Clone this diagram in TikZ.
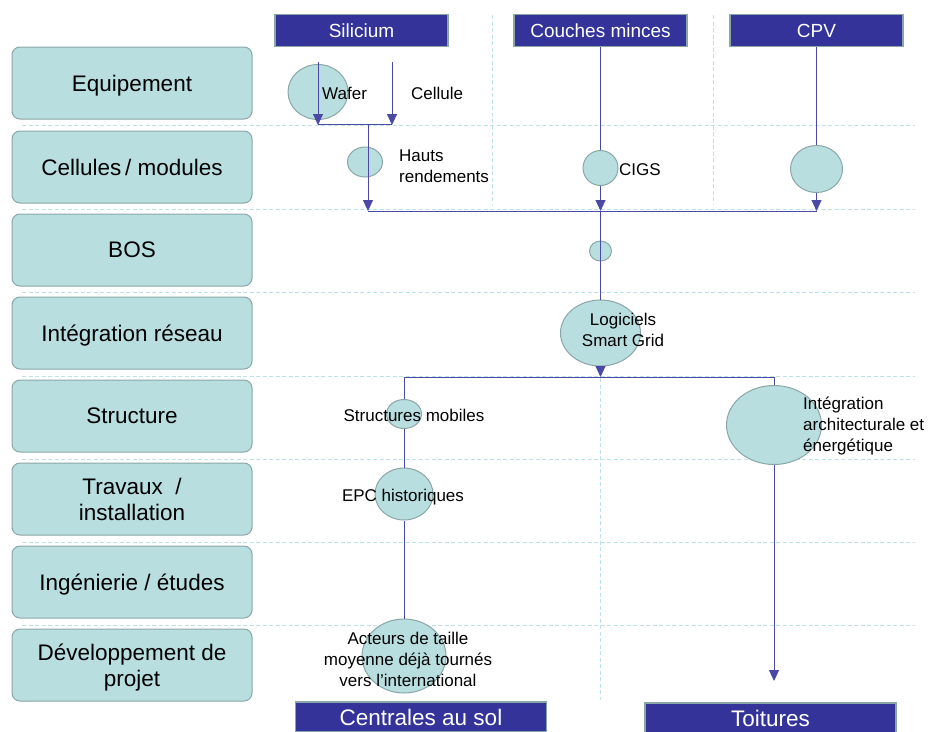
\documentclass[tikz,border=0pt]{standalone}
\usepackage{fontspec}
\setmainfont{Liberation Sans}
\usetikzlibrary{arrows.meta, positioning, shapes}

\definecolor{boxteal}{HTML}{B8DEE0}
\definecolor{boxedge}{HTML}{8AA6A6}
\definecolor{headblue}{HTML}{333399}
\definecolor{flowblue}{HTML}{4A4AA6}
\definecolor{gridteal}{HTML}{BDE2E4}

\tikzset{
  rowbox/.style={draw=boxedge, fill=boxteal, rounded corners=8pt, line width=1pt,
    minimum width=240pt, minimum height=72pt, align=center, text depth=0pt,
    font=\fontsize{22.5}{26}\selectfont},
  headbox/.style={draw=boxedge, fill=headblue, text=white, line width=1.2pt,
    minimum width=173pt, minimum height=32pt, inner sep=0pt,
    font=\fontsize{19}{22}\selectfont},
  footbox/.style={headbox, minimum width=251pt, minimum height=30pt,
    font=\fontsize{22.5}{26}\selectfont},
  bubble/.style={ellipse, draw=boxedge, fill=boxteal, line width=1pt, inner sep=0pt},
  lbl/.style={inner sep=0pt, align=left, font=\fontsize{17}{21}\selectfont},
  flow/.style={draw=flowblue, line width=0.9pt},
  flowarr/.style={flow, -{Triangle[width=10pt,length=11pt]}},
  gridline/.style={draw=gridteal, line width=0.9pt, dash pattern=on 4pt off 2.5pt}
}

\begin{document}
\begin{tikzpicture}[x=1pt, y=-1pt]
\useasboundingbox (0,0) rectangle (928,731);

% grid
\foreach \gy in {125,209,292,376,459,542,625}
  \draw[gridline] (22,\gy) -- (915,\gy);
\draw[gridline] (492,15) -- (492,205);
\draw[gridline] (713,15) -- (713,205);
\draw[gridline] (600,378) -- (600,700);

% value chain rows
\node[rowbox] (equip) at (132,83) {Equipement};
\node[rowbox] (cellmod) at (132,167) {Cellules\,/ modules};
\node[rowbox] (bos) at (132,250) {BOS};
\node[rowbox] (reseau) at (132,333) {Intégration réseau};
\node[rowbox] (struct) at (132,416) {Structure};
\node[rowbox] (travaux) at (132,499) {Travaux~~/\\installation};
\node[rowbox] (inge) at (132,582) {Ingénierie / études};
\node[rowbox] (devproj) at (132,665) {Développement de\\projet};

% technologies and markets
\node[headbox] (hsil) at (361.5,30.5) {Silicium};
\node[headbox] (hcm) at (600.5,30.5) {Couches minces};
\node[headbox] (hcpv) at (816.5,30.5) {CPV};
\node[footbox] (fsol) at (421,717) {Centrales au sol};
\node[footbox] (ftoit) at (770.5,718) {Toitures};

% bubbles crossed by the flow
\node[bubble, minimum width=60pt, minimum height=55pt] (wafer) at (318,92) {};
\node[bubble, minimum width=35pt, minimum height=30pt] (hauts) at (365,162) {};
\node[bubble, minimum width=22pt, minimum height=20pt] (bosb) at (600.5,251) {};

% junctions
\coordinate (wtop) at (318,62);
\coordinate (wbot) at (318,125);
\coordinate (ctop) at (392,62);
\coordinate (cbot) at (392,125);
\coordinate (jsil) at (368,124);
\coordinate (jleft) at (368,211);
\coordinate (jmid) at (600.5,211);
\coordinate (jright) at (816.5,211);
\coordinate (jgrid) at (600.5,377);
\coordinate (jsol) at (404,377);
\coordinate (jtoit) at (774,377);
\coordinate (toitend) at (774,681);

\draw[flowarr] (wtop) -- (wbot);
\draw[flowarr] (ctop) -- (cbot);
\draw[flow] (wbot |- jsil) -- (cbot |- jsil);
\draw[flowarr] (jsil) -- (jleft);
\draw[flow] (jleft) -- (jright);

% bubbles on the flow
\node[bubble, minimum width=35pt, minimum height=35pt] (cigs) at (600.5,168) {};
\node[bubble, minimum width=52pt, minimum height=47pt] (cpv) at (816.5,169) {};
\node[bubble, minimum width=80pt, minimum height=66pt] (smart) at (600.5,333) {};
\node[bubble, minimum width=35pt, minimum height=29pt] (mobiles) at (404,414) {};
\node[bubble, minimum width=58pt, minimum height=52pt] (epc) at (404,494) {};
\node[bubble, minimum width=84pt, minimum height=74pt] (acteurs) at (404,656) {};
\node[bubble, minimum width=95pt, minimum height=79pt] (archi) at (774,425) {};

\draw[flow] (hcm.south) -- (cigs.north);
\draw[flowarr] (cigs.south) -- (jmid);
\draw[flow] (jmid) -- (smart.north);
\draw[flowarr] (smart.south) -- (jgrid);
\draw[flow] (hcpv.south) -- (cpv.north);
\draw[flowarr] (cpv.south) -- (jright);
\draw[flow] (jsol) -- (jtoit);
\draw[flow] (jsol) -- (mobiles.north);
\draw[flow] (mobiles.south) -- (epc.north);
\draw[flow] (epc.south) -- (acteurs.north);
\draw[flow] (jtoit) -- (archi.north);
\draw[flowarr] (archi.south) -- (toitend);

% labels
\node[lbl, anchor=west] (lwafer) at (322,93) {Wafer};
\node[lbl, anchor=west] (lcell) at (411,93) {Cellule};
\node[lbl, anchor=west] (lhauts) at (399,166) {Hauts\\rendements};
\node[lbl, anchor=west] (lcigs) at (619,170) {CIGS};
\node[lbl, align=center] (lsmart) at (623,330) {Logiciels\\Smart Grid};
\node[lbl] (lmobiles) at (414,415) {Structures mobiles};
\node[lbl] (lepc) at (403,497) {EPC historiques};
\node[lbl, align=center] (lacteurs) at (408,659) {Acteurs de taille\\moyenne déjà tournés\\vers l’international};
\node[lbl, anchor=west] (larchi) at (803,426) {Intégration\\architecturale et\\énergétique};

\end{tikzpicture}
\end{document}
